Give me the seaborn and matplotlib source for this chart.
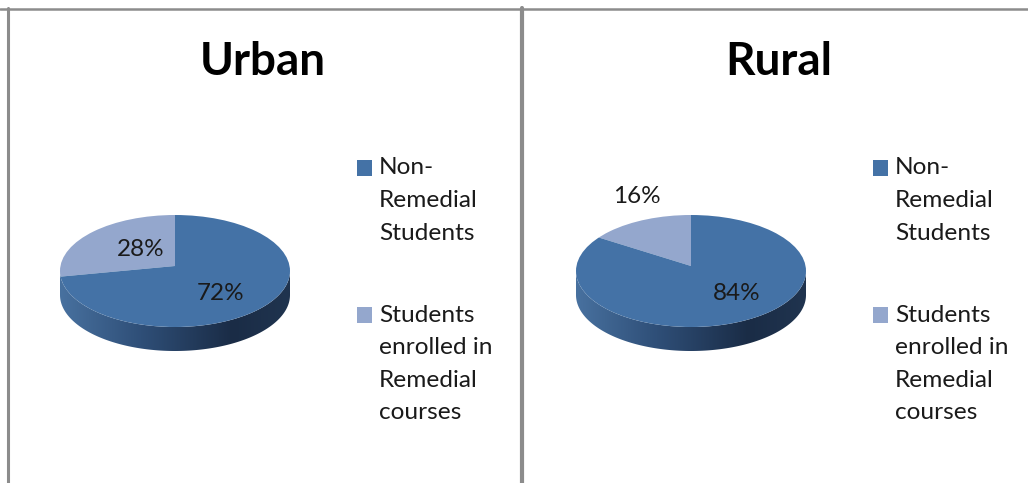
# -*- coding: utf-8 -*-
import numpy as np
import seaborn as sns
import matplotlib.pyplot as plt
from matplotlib.patches import Ellipse, Polygon, Patch, Rectangle
from matplotlib.colors import LinearSegmentedColormap
from matplotlib.legend_handler import HandlerPatch
from matplotlib.offsetbox import HPacker

W, H = 1028, 483

titles = ['Urban', 'Rural']
non_remedial = [72, 84]
remedial = [28, 16]
legend_labels = ['Non-\nRemedial\nStudents', 'Students\nenrolled in\nRemedial\ncourses']

dark_blue = '#4472a6'
light_blue = '#94a7cd'
side_cmap = LinearSegmentedColormap.from_list(
    'side', [(0, '#48719f'), (0.35, '#2f4f78'), (0.75, '#1a2c46'), (1, '#20344f')])

sns.set_theme(style='white')
plt.rcParams['font.family'] = ['Lato', 'DejaVu Sans']

fig = plt.figure(figsize=(W / 100, H / 100), dpi=100, facecolor='white')

# pixel layout of one panel, second one is shifted
RX, RY = 115, 56
DEPTH = 24 / RY
APEX = 5 / RY
XPAD, YPAD_TOP, YPAD_BOT = 1.25, 1.25, 1.7


def low_swatch(legend, orig_handle, xdescent, ydescent, width, height, fontsize):
    # drop the swatch so it lines up with the capitals of the first line
    return Rectangle((-xdescent, -ydescent - 2.0), width, height)


def draw_panel(shift, title, non_rem, rem, rem_xy, non_xy):
    cx, cy = 175 + shift, 271
    left = (cx - RX * XPAD) / W
    bottom = 1 - (cy + RY * YPAD_BOT) / H
    ax = fig.add_axes([left, bottom, 2 * RX * XPAD / W, RY * (YPAD_TOP + YPAD_BOT) / H])
    ax.patch.set_alpha(0)

    wedges, _, autotexts = ax.pie(
        [rem, non_rem], colors=[light_blue, dark_blue], startangle=90,
        center=(0, APEX), radius=1.5, autopct='%.0f%%',
        wedgeprops={'linewidth': 0},
        textprops={'fontsize': 17.5, 'color': '#1a1a1a'})
    ax.set_aspect('auto')
    ax.set_xlim(-XPAD, XPAD)
    ax.set_ylim(-YPAD_BOT, YPAD_TOP)

    # the pie is squashed by the axes, cut it to the top face
    face = Ellipse((0, 0), 2, 2, facecolor='none', edgecolor='none')
    ax.add_patch(face)
    for w in wedges:
        w.set_clip_on(True)
        w.set_clip_path(face)

    # side of the disc
    t = np.linspace(np.pi, 2 * np.pi, 200)
    xs, ys = np.cos(t), np.sin(t)
    band = np.column_stack([np.r_[xs, xs[::-1]], np.r_[ys - DEPTH, ys[::-1]]])
    band_patch = Polygon(band, closed=True, facecolor='none', edgecolor='none')
    ax.add_patch(band_patch)
    img = ax.imshow(np.linspace(0, 1, 256)[None, :], cmap=side_cmap, aspect='auto',
                    extent=(-1, 1, -1 - DEPTH, 0.1), zorder=0)
    img.set_clip_path(band_patch)
    ax.set_xlim(-XPAD, XPAD)
    ax.set_ylim(-YPAD_BOT, YPAD_TOP)

    for txt, (px, py) in zip(autotexts, [rem_xy, non_xy]):
        txt.set_position(((px + shift - cx) / RX, (cy - py) / RY))
        txt.set_clip_on(False)

    fig.text((263 + shift) / W, 1 - 62 / H, title, ha='center', va='center',
             fontsize=33, fontweight='bold', color='black')

    handles = [Patch(facecolor=dark_blue, edgecolor='none'),
               Patch(facecolor=light_blue, edgecolor='none')]
    leg = fig.legend(handles, legend_labels, loc='upper left',
                     bbox_to_anchor=((355 + shift) / W, 1 - 155 / H),
                     frameon=False, fontsize=17.6, labelcolor='#1a1a1a',
                     handler_map={Patch: HandlerPatch(patch_func=low_swatch)},
                     handlelength=0.58, handleheight=0.6, handletextpad=0.3,
                     labelspacing=2.5, borderpad=0.1, borderaxespad=0)
    for txt in leg.get_texts():
        txt.set_linespacing(1.68)
    # swatch sits next to the first line of its label
    for box in leg.findobj(HPacker):
        box.align = 'top'


draw_panel(0, titles[0], non_remedial[0], remedial[0], (141, 249), (221, 294))
draw_panel(516, titles[1], non_remedial[1], remedial[1], (121, 196), (221, 294))

# grey chart borders
border = '#8c8c8c'
fig.add_artist(plt.Line2D([0, 1], [1 - 9 / H] * 2, color=border, lw=1.8))
for x, lw in [(8, 2.2), (522, 3.0)]:
    fig.add_artist(plt.Line2D([x / W] * 2, [0, 1 - 8 / H], color=border, lw=lw))

fig.savefig('out.png', dpi=100)
